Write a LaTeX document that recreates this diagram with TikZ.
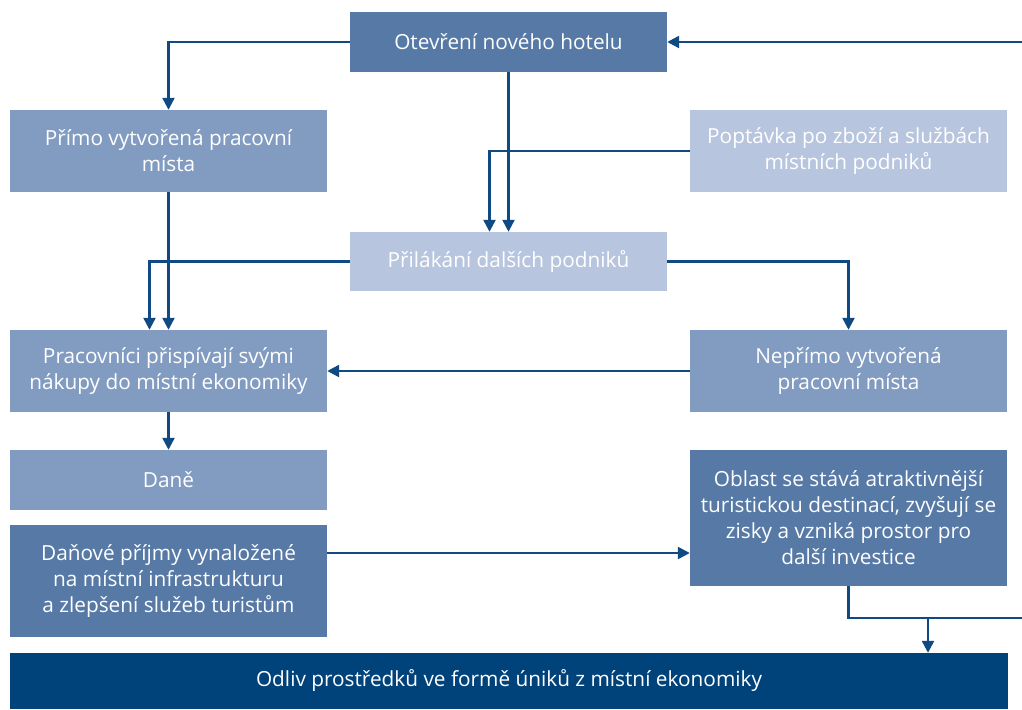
\documentclass[tikz,border=0pt]{standalone}
\usepackage{fontspec}
\setmainfont{Open Sans}
\usetikzlibrary{arrows.meta}
\definecolor{cDark}{HTML}{00427A}
\definecolor{cMid}{HTML}{5679A6}
\definecolor{cLight}{HTML}{819BC1}
\definecolor{cPale}{HTML}{B8C5DF}
\definecolor{cLine}{HTML}{0F4A82}
\tikzset{
  box/.style={rectangle, inner sep=0pt, text=white, align=center,
    minimum width=317pt, font=\fontsize{20.8}{26}\selectfont},
  arr/.style={draw=cLine, line width=2.4pt, -{Triangle[length=12pt,width=12pt]}},
  ln/.style={draw=cLine, line width=2.4pt},
}
\begin{document}
\begin{tikzpicture}[x=1pt,y=-1pt]
\useasboundingbox (0,0) rectangle (1022,709);
% boxes
\node[box, fill=cMid, minimum height=60pt] (hotel) at (508.5,42) {Otevření nového hotelu};
\node[box, fill=cLight, minimum height=82pt] (primo) at (168.5,151) {Přímo vytvořená pracovní\\místa};
\node[box, fill=cPale, minimum height=82pt] (poptavka) at (848.5,151) {Poptávka po zboží a službách\\místních podniků};
\node[box, fill=cPale, minimum height=59pt] (attract) at (508.5,261.5) {Přilákání dalších podniků};
\node[box, fill=cLight, minimum height=82pt] (prac) at (168.5,371) {Pracovníci přispívají svými\\nákupy do místní ekonomiky};
\node[box, fill=cLight, minimum height=82pt] (nepr) at (848.5,371) {Nepřímo vytvořená\\pracovní místa};
\node[box, fill=cLight, minimum height=60pt] (dane) at (168.5,480) {Daně};
\node[box, fill=cMid, minimum height=112pt] (danove) at (168.5,581) {Daňové příjmy vynaložené\\na místní infrastrukturu\\a zlepšení služeb turistům};
\node[box, fill=cMid, minimum height=136pt] (oblast) at (848.5,518) {Oblast se stává atraktivnější\\turistickou destinací, zvyšují se\\zisky a vzniká prostor pro\\další investice};
\node[box, fill=cDark, minimum width=998pt, minimum height=56pt] (odliv) at (509,681) {Odliv prostředků ve formě úniků z místní ekonomiky};
% loose ends of the feedback loop
\coordinate (loopIn) at (1022,42);
\coordinate (loopOut) at (1022,618);
\coordinate (split) at (928,618);
% connectors
\draw[arr] (loopIn) -- (hotel.east);
\draw[arr] (hotel.west) -| (primo.north);
\draw[arr] (hotel.south) -- (attract.north);
\draw[arr] (poptavka.west) -| ([xshift=-19pt]attract.north);
\draw[arr] (primo.south) -- (prac.north);
\draw[arr] (attract.west) -| ([xshift=-19pt]prac.north);
\draw[arr] (attract.east) -| (nepr.north);
\draw[arr] (nepr.west) -- (prac.east);
\draw[arr] (prac.south) -- (dane.north);
\draw[arr] ([yshift=28pt]danove.east) -- ([yshift=28pt]danove.east -| oblast.west);
\draw[ln] (oblast.south) |- (loopOut);
\draw[arr] (split) -- (split |- odliv.north);
\end{tikzpicture}
\end{document}
